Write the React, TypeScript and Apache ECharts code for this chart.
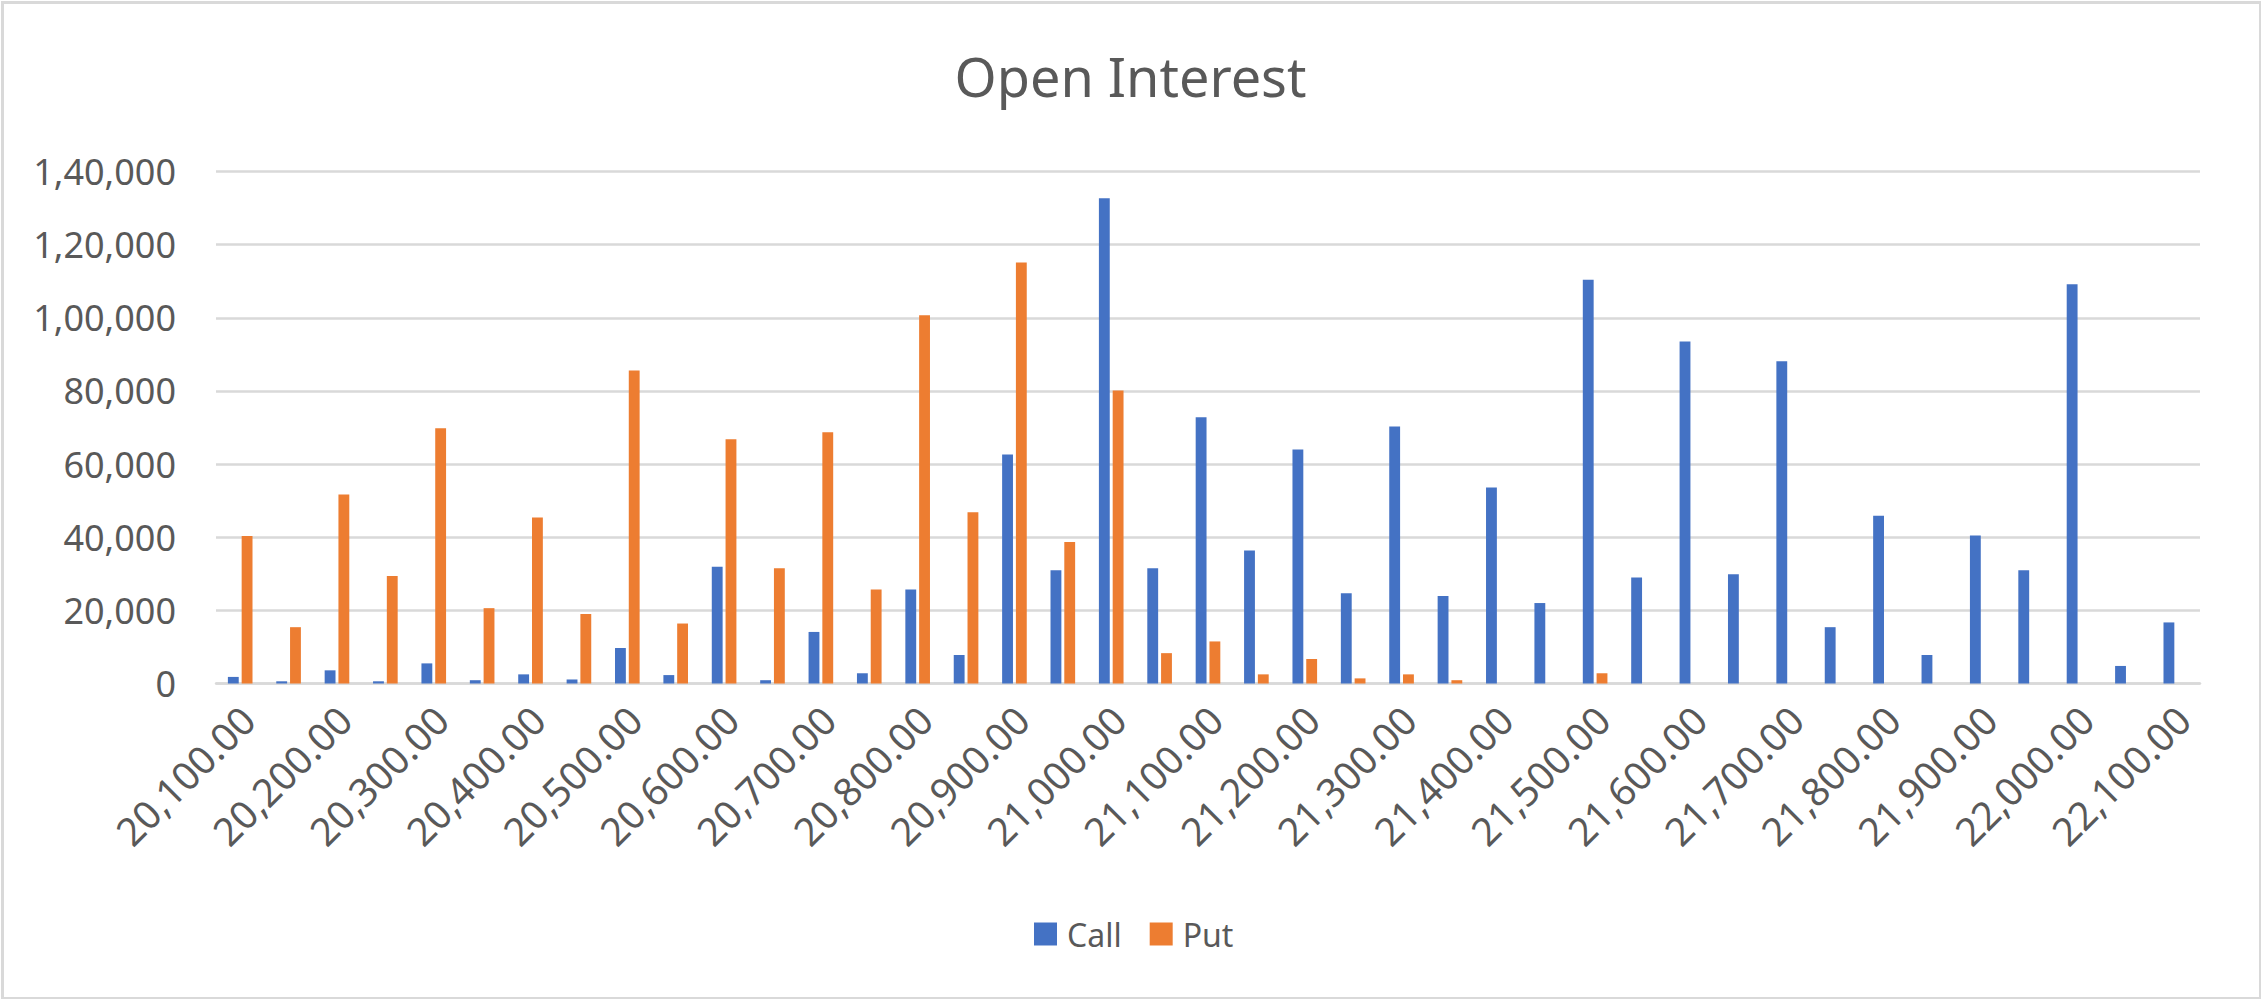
import React, { useEffect, useRef } from "react";
import * as echarts from "echarts";

const strikes = [
  "20,100.00", "20,150.00", "20,200.00", "20,250.00", "20,300.00", "20,350.00", "20,400.00",
  "20,450.00", "20,500.00", "20,550.00", "20,600.00", "20,650.00", "20,700.00", "20,750.00",
  "20,800.00", "20,850.00", "20,900.00", "20,950.00", "21,000.00", "21,050.00", "21,100.00",
  "21,150.00", "21,200.00", "21,250.00", "21,300.00", "21,350.00", "21,400.00", "21,450.00",
  "21,500.00", "21,550.00", "21,600.00", "21,650.00", "21,700.00", "21,750.00", "21,800.00",
  "21,850.00", "21,900.00", "21,950.00", "22,000.00", "22,050.00", "22,100.00",
];

const callOI = [
  1800, 600, 3600, 600, 5500, 900, 2500, 1100, 9700, 2300, 31900, 900, 14100, 2800,
  25700, 7800, 62600, 31000, 132700, 31500, 72800, 36400, 64000, 24700, 70300, 23900,
  53600, 22000, 110400, 29000, 93500, 29900, 88100, 15400, 45900, 7800, 40500, 31000,
  109200, 4800, 16700,
];

const putOI = [
  40300, 15400, 51700, 29400, 69800, 20600, 45400, 19000, 85600, 16400, 66800, 31500,
  68700, 25700, 100700, 46800, 115100, 38700, 80100, 8300, 11500, 2500, 6700, 1400,
  2500, 900, 0, 0, 2800, 0, 0, 0, 0, 0, 0, 0, 0, 0, 0, 0, 0,
];

const yTicks = [0, 20000, 40000, 60000, 80000, 100000, 120000, 140000];

function indianFormat(n: number): string {
  const s = Math.round(n).toString();
  if (s.length <= 3) return s;
  const last3 = s.slice(-3);
  const rest = s.slice(0, -3).replace(/\B(?=(\d{2})+(?!\d))/g, ",");
  return rest + "," + last3;
}

const FONT = "'Noto Sans', 'Open Sans', sans-serif";
const TEXT = "#595959";
const GRID = "#d9d9d9";

export default function App() {
  const ref = useRef<HTMLDivElement>(null);

  useEffect(() => {
    if (!ref.current) return;
    const chart = echarts.init(ref.current, undefined, { renderer: "svg" });
    chart.setOption({
      animation: false,
      backgroundColor: "#ffffff",
      textStyle: { fontFamily: FONT, color: TEXT },
      title: {
        text: "Open Interest",
        left: "center",
        top: 44,
        textStyle: { fontFamily: FONT, fontSize: 54, fontWeight: "normal", color: TEXT },
      },
      legend: {
        data: ["Call", "Put"],
        left: 1029,
        top: 913,
        itemWidth: 23,
        itemHeight: 23,
        itemGap: 28,
        icon: "rect",
        textStyle: { fontFamily: FONT, fontSize: 32, color: TEXT, padding: [0, 0, 0, 5] },
      },
      grid: { left: 216, right: 61, top: 171.5, bottom: 315.5, containLabel: false },
      xAxis: {
        type: "category",
        data: strikes,
        axisLine: { show: true, lineStyle: { color: GRID, width: 2.5 } },
        axisTick: { show: false },
        axisLabel: {
          interval: 1,
          rotate: 45,
          margin: 36,
          padding: [0, -10, 0, 0],
          fontFamily: FONT,
          fontSize: 39,
          color: TEXT,
        },
      },
      yAxis: {
        type: "value",
        min: 0,
        max: yTicks[yTicks.length - 1],
        interval: yTicks[1] - yTicks[0],
        axisLine: { show: false },
        axisTick: { show: false },
        splitLine: { lineStyle: { color: GRID, width: 2.5 } },
        axisLabel: {
          margin: 40,
          fontFamily: FONT,
          fontSize: 36,
          color: TEXT,
          formatter: (v: number) => indianFormat(v),
        },
      },
      series: [
        {
          name: "Call",
          type: "bar",
          data: callOI,
          barWidth: 10.85,
          barGap: "27%",
          itemStyle: { color: "#4472C4" },
        },
        {
          name: "Put",
          type: "bar",
          data: putOI,
          barWidth: 10.85,
          barGap: "27%",
          itemStyle: { color: "#ED7D31" },
        },
      ],
      graphic: [
        {
          type: "rect",
          left: 0,
          top: 0,
          shape: { x: 1.5, y: 1.5, width: 2258, height: 996 },
          style: { fill: "none", stroke: GRID, lineWidth: 3 },
          silent: true,
        },
      ],
    });
    return () => chart.dispose();
  }, []);

  return (
    <div
      ref={ref}
      style={{ position: "fixed", left: 0, top: 0, width: 2261, height: 999, background: "#fff" }}
    />
  );
}
